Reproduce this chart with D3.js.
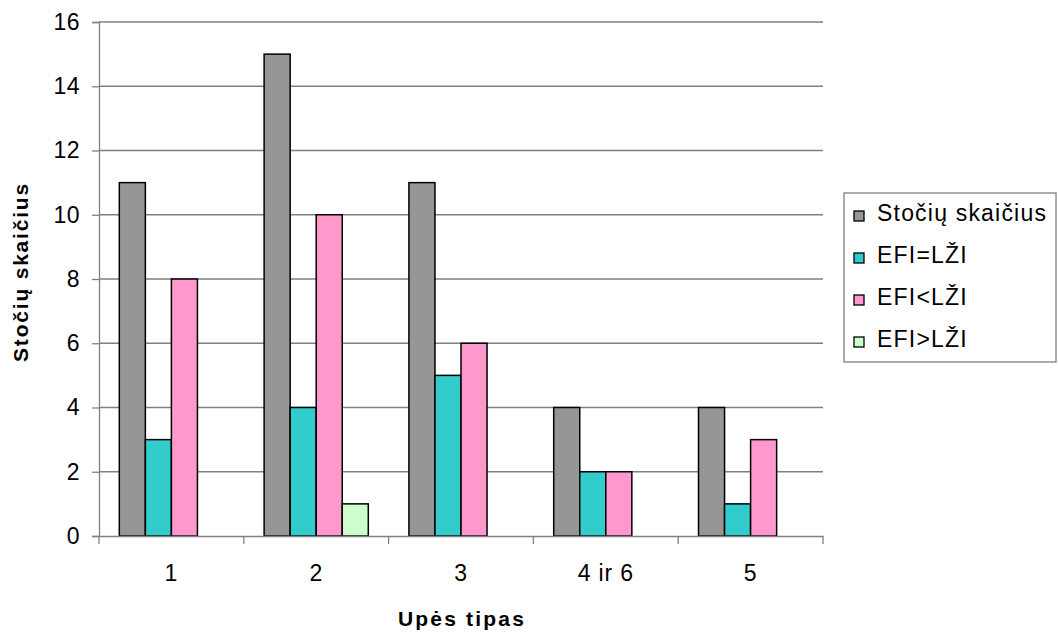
<!DOCTYPE html>
<html>
<head>
<meta charset="utf-8">
<script src="https://cdn.jsdelivr.net/npm/d3@7/dist/d3.min.js"></script>
<style>
  html, body { margin: 0; padding: 0; background: #fff; }
  svg { display: block; font-family: "Liberation Sans", Arial, sans-serif; }
</style>
</head>
<body>
<svg id="chart" width="1058" height="635"></svg>
<script>
const categories = ["1", "2", "3", "4 ir 6", "5"];
const seriesNames = ["Stočių skaičius", "EFI=LŽI", "EFI<LŽI", "EFI>LŽI"];
const stociuSkaicius = [11, 15, 11, 4, 4];
const efiLygu = [3, 4, 5, 2, 1];
const efiMaziau = [8, 10, 6, 2, 3];
const efiDaugiau = [0, 1, 0, 0, 0];
const yTicks = [0, 2, 4, 6, 8, 10, 12, 14, 16];
const colors = ["#969696", "#33CCCC", "#FF99CC", "#CCFFCC"];

(function () {
const series = [stociuSkaicius, efiLygu, efiMaziau, efiDaugiau];
const svg = d3.select("#chart");
const plotLeft = 99, plotRight = 823, plotTop = 22, plotBottom = 536;
const FONT = "Liberation Sans, Arial, sans-serif";

const x = d3.scaleBand().domain(categories).range([plotLeft, plotRight]).paddingInner(0).paddingOuter(0);
const xs = d3.scaleBand().domain(d3.range(series.length)).range([0, x.bandwidth()]).paddingInner(0).paddingOuter(0.78);
const y = d3.scaleLinear().domain([0, 16]).range([plotBottom, plotTop]);

// horizontal gridlines
svg.append("g").selectAll("line").data(yTicks.filter(t => t > 0)).join("line")
  .attr("x1", plotLeft).attr("x2", plotRight)
  .attr("y1", d => y(d)).attr("y2", d => y(d))
  .attr("stroke", "#808080").attr("stroke-width", 1.3);

// bars
const groups = svg.append("g").selectAll("g").data(series).join("g")
  .attr("fill", (d, i) => colors[i]);
groups.selectAll("rect").data((vals, si) => vals.map((v, ci) => ({v, ci, si})).filter(d => d.v > 0)).join("rect")
  .attr("x", d => x(categories[d.ci]) + xs(d.si))
  .attr("y", d => y(d.v))
  .attr("width", xs.bandwidth())
  .attr("height", d => y(0) - y(d.v))
  .attr("stroke", "#000").attr("stroke-width", 1.5);

// y axis
const yAxis = svg.append("g").attr("transform", `translate(${plotLeft},0)`)
  .call(d3.axisLeft(y).tickValues(yTicks).tickSize(7).tickPadding(12));
yAxis.attr("font-size", null).attr("font-family", null);
yAxis.select(".domain").attr("stroke", "#808080").attr("stroke-width", 1.3);
yAxis.selectAll(".tick line").attr("stroke", "#808080").attr("stroke-width", 1.3);
yAxis.selectAll("text").style("font-size", "23px").style("letter-spacing", "0.5px")
  .attr("fill", "#000").style("font-family", FONT);

// x axis
const xAxis = svg.append("g").attr("transform", `translate(0,${plotBottom})`)
  .call(d3.axisBottom(x).tickSize(0).tickPadding(29));
xAxis.attr("font-size", null).attr("font-family", null);
xAxis.select(".domain").attr("stroke", "#808080").attr("stroke-width", 1.3);
xAxis.selectAll("text").style("font-size", "23px").style("letter-spacing", "0.8px")
  .attr("fill", "#000").style("font-family", FONT);
// category separator ticks
svg.append("g").selectAll("line").data(d3.range(categories.length + 1)).join("line")
  .attr("x1", i => plotLeft + i * x.bandwidth()).attr("x2", i => plotLeft + i * x.bandwidth())
  .attr("y1", plotBottom).attr("y2", plotBottom + 8)
  .attr("stroke", "#808080").attr("stroke-width", 1.3);

// axis titles
svg.append("text").attr("x", 462).attr("y", 626).attr("text-anchor", "middle")
  .style("font-size", "21px").style("letter-spacing", "2.2px").attr("font-weight", "bold").text("Upės tipas");
svg.append("text").attr("transform", "translate(28,272) rotate(-90)").attr("text-anchor", "middle")
  .style("font-size", "21px").style("letter-spacing", "1.8px").attr("font-weight", "bold").text("Stočių skaičius");

// legend
const lg = svg.append("g").attr("transform", "translate(844,193)");
lg.append("rect").attr("width", 212).attr("height", 169)
  .attr("fill", "#fff").attr("stroke", "#808080").attr("stroke-width", 1.3);
const items = lg.selectAll("g").data(seriesNames).join("g")
  .attr("transform", (d, i) => `translate(0,${28 + i * 42})`);
items.append("rect").attr("x", 10).attr("y", -10).attr("width", 10).attr("height", 10)
  .attr("fill", (d, i) => colors[i]).attr("stroke", "#000").attr("stroke-width", 1.3);
items.append("text").attr("x", 33).attr("y", 0)
  .style("font-size", "23px").style("letter-spacing", "1.2px").text(d => d);
})();
</script>
</body>
</html>
